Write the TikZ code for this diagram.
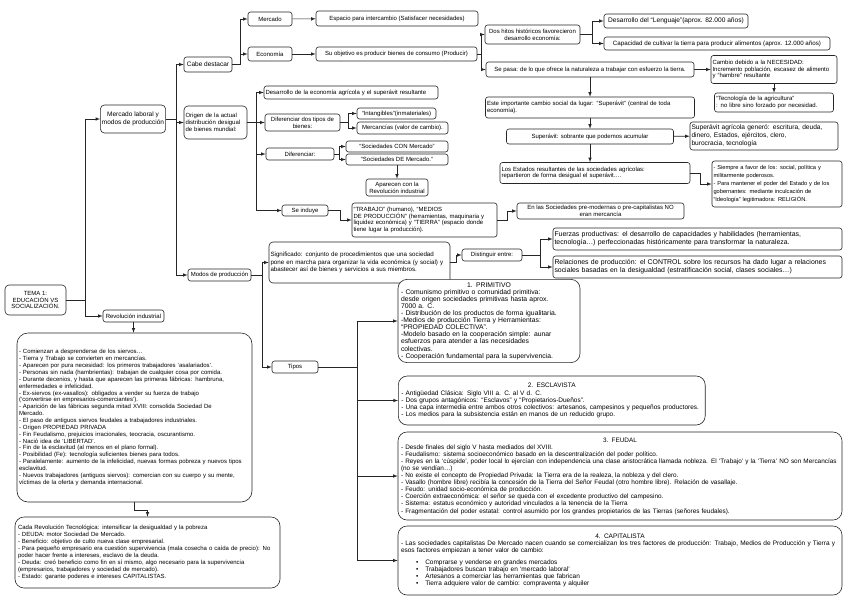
\documentclass[tikz,border=0pt]{standalone}
\usepackage{fontspec}
\setmainfont{Liberation Sans}
\newcommand{\paneltitle}[1]{\hspace*{\fill}#1\hspace*{\fill}\null\\}
\newcommand{\dotitem}[1]{\hspace*{15pt}\textbullet\hspace{7pt}#1}
\newlength{\esclwidth}
\AtBeginDocument{%
  \settowidth{\esclwidth}{\fontsize{6.5}{7.1}\selectfont - Una capa intermedia entre ambos otros colectivos: artesanos, campesinos y pequeños productores.}%
  \addtolength{\esclwidth}{8pt}}
\hyphenpenalty=10000

\begin{document}
\begin{tikzpicture}[
    x=1pt, y=-1pt,
    every node/.style={font=\fontsize{6}{6.8}\selectfont},
    box/.style={draw=black!85, line width=0.6pt, rounded corners=2.5pt, fill=white, inner sep=1.5pt, align=center},
    note/.style={box, align=left},
    panel/.style={box, align=left, rounded corners=9pt, inner sep=3pt, font=\fontsize{6.4}{7.1}\selectfont},
    sz/.style 2 args={minimum width=#1pt, minimum height=#2pt},
    every edge/.append style={line width=0.6pt, draw=black!85, >=latex},
    hvh/.style={to path={-- ++(#1,0) |- (\tikztotarget)}},
    vhv/.style={to path={-- ++(0,#1) -| (\tikztotarget)}}
]
   \fill[white] (0,0) rectangle (848,600);
   \useasboundingbox (0,0) rectangle (848,600);

   % Boxes
   \node[box, sz={61}{30}, rounded corners=4pt] (tema) at (35.5,300) {TEMA 1:\\EDUCACIÓN VS\\SOCIALIZACIÓN.};
   \node[box, sz={62}{28}, rounded corners=4pt, font=\fontsize{6.5}{7.4}\selectfont] (merlab) at (133,119) {Mercado laboral y\\modos de producción};
   \node[box, sz={61}{12}] (revind) at (133.5,316) {Revolución industrial};
   \node[box, sz={48}{15}, font=\fontsize{6.5}{7}\selectfont] (cabe) at (208,64.5) {Cabe destacar};
   \node[note, text width=60pt, minimum height=33pt, rounded corners=4pt] (origen) at (215.5,122.5) {Origen de la actual\\distribución desigual\\de bienes mundial:};
   \node[box, sz={63}{12}] (modos) at (219.5,275) {Modos de producción};

   \node[box, sz={44}{14}] (mercado) at (270,19) {Mercado};
   \node[box, sz={44}{14}] (economia) at (270,54) {Economía};
   \node[box, sz={162}{15}] (espacio) at (397,18.5) {Espacio para intercambio (Satisfacer necesidades)};
   \node[box, sz={161}{14}] (objetivo) at (396.5,54) {Su objetivo es producir bienes de consumo (Producir)};
   \node[box, sz={95}{19}] (hitos) at (532.5,34.5) {Dos hitos históricos favorecieron\\desarrollo economía:};
   \node[box, sz={144}{14}, font=\fontsize{6.6}{7}\selectfont] (lenguaje) at (676,21) {Desarrollo del “Lenguaje”(aprox. 82.000 años)};
   \node[box, sz={226}{13}, font=\fontsize{6.2}{7}\selectfont] (cultivar) at (717,43.5) {Capacidad de cultivar la tierra para producir alimentos (aprox. 12.000 años)};
   \node[box, sz={208}{15}] (sepasa) at (590,69.5) {Se pasa: de lo que ofrece la naturaleza a trabajar con esfuerzo la tierra.};
   \node[note, text width=123pt, minimum height=28pt] (necesidad) at (774,69.5) {Cambio debido a la NECESIDAD:\\Incremento población, escasez de alimento\\y “hambre” resultante};
   \node[note, text width=116pt, minimum height=19pt] (tecnologia) at (774,102.5) {“Tecnología de la agricultura”\\: no libre sino forzado por necesidad.};
   \node[note, text width=206pt, minimum height=21pt] (importante) at (590,107.5) {Este importante cambio social da lugar: “Superávit” (central de toda\\economía).};
   \node[box, sz={167}{15}] (superavit) at (590,136.5) {Superávit: sobrante que podemos acumular};
   \node[note, text width=145pt, minimum height=28pt, font=\fontsize{6.6}{8}\selectfont] (genero) at (764,136) {Superávit agrícola generó: escritura, deuda,\\dinero, Estados, ejércitos, clero,\\burocracia, tecnología};
   \node[note, text width=187pt, minimum height=21pt] (estados) at (595,173) {Los Estados resultantes de las sociedades agrícolas:\\repartieron de forma desigual el superávit….};
   \node[note, text width=127pt, minimum height=46pt, font=\fontsize{5.7}{7.8}\selectfont] (siempre) at (777,184) {- Siempre a favor de los: social, política y\\militarmente poderosos.\\- Para mantener el poder del Estado y de los\\gobernantes: mediante inculcación de\\“Ideología” legitimadora: RELIGIÓN.};

   \node[note, text width=171pt, minimum height=13pt] (agricola) at (351,92.5) {Desarrollo de la economía agrícola y el superávit resultante};
   \node[box, sz={75}{17}] (dostipos) at (302.5,122.5) {Diferenciar dos tipos de\\bienes:};
   \node[box, sz={79}{11}] (intangibles) at (396.5,113.5) {“Intangibles”(inmateriales)};
   \node[box, sz={91}{12}] (mercancias) at (402.5,128) {Mercancías (valor de cambio).};
   \node[box, sz={68}{12}] (diferenciar) at (300,154) {Diferenciar:};
   \node[box, sz={102}{11}] (conmercado) at (397,146.5) {“Sociedades CON Mercado”};
   \node[box, sz={102}{11}] (demercado) at (397,159.5) {“Sociedades DE Mercado.”};
   \node[box, sz={62}{17}] (aparecen) at (397,187.5) {Aparecen con la\\Revolución industrial};
   \node[box, sz={46}{11}] (seinduye) at (305,210.5) {Se induye};
   \node[note, text width=142pt, minimum height=34pt] (trabajo) at (424.5,220) {“TRABAJO” (humano), “MEDIOS\\DE PRODUCCIÓN” (herramientas, maquinaria y\\liquidez económica) y “TIERRA” (espacio donde\\tiene lugar la producción).};
   \node[box, sz={167}{16}] (premodernas) at (600.5,211) {En las Sociedades pre-modernas o pre-capitalistas NO\\eran mercancía};

   \node[note, text width=178pt, minimum height=41pt, rounded corners=4pt, font=\fontsize{6.2}{7.2}\selectfont] (significado) at (359.5,262.5) {Significado: conjunto de procedimientos que una sociedad\\pone en marcha para organizar la vida económica (y social) y\\abastecer así de bienes y servicios a sus miembros.};
   \node[box, sz={60}{12}] (distinguir) at (492,255) {Distinguir entre:};
   \node[note, text width=286pt, minimum height=22pt, font=\fontsize{6.9}{7.7}\selectfont] (fuerzas) at (697.5,239) {Fuerzas productivas: el desarrollo de capacidades y habilidades (herramientas,\\tecnología…) perfeccionadas históricamente para transformar la naturaleza.};
   \node[note, text width=286pt, minimum height=22pt, font=\fontsize{6.9}{7.7}\selectfont] (relaciones) at (697.5,267) {Relaciones de producción: el CONTROL sobre los recursos ha dado lugar a relaciones\\sociales basadas en la desigualdad (estratificación social, clases sociales…)};
   \node[box, sz={46}{12}] (tipos) at (295,367) {Tipos};

   \node[panel, text width=176pt, minimum height=82pt, font=\fontsize{6.8}{7.1}\selectfont] (primitivo) at (489,321) {\paneltitle{1. PRIMITIVO}- Comunismo primitivo o comunidad primitiva:\\desde origen sociedades primitivas hasta aprox.\\7000 a. C.\\- Distribución de los productos de forma igualitaria.\\-Medios de producción Tierra y Herramientas:\\“PROPIEDAD COLECTIVA”.\\-Modelo basado en la cooperación simple: aunar\\esfuerzos para atender a las necesidades\\colectivas.\\- Cooperación fundamental para la supervivencia.};
   \node[panel, text width=\esclwidth, minimum height=49pt, anchor=west, font=\fontsize{6.5}{7.1}\selectfont] (esclavista) at (398,400.5) {\paneltitle{2. ESCLAVISTA}- Antigüedad Clásica: Siglo VIII a. C. al V d. C.\\- Dos grupos antagónicos: “Esclavos” y “Propietarios-Dueños”.\\- Una capa intermedia entre ambos otros colectivos: artesanos, campesinos y pequeños productores.\\- Los medios para la subsistencia están en manos de un reducido grupo.};
   \node[panel, text width=438pt, minimum height=88pt] (feudal) at (620,476) {\paneltitle{3. FEUDAL}- Desde finales del siglo V hasta mediados del XVIII.\\- Feudalismo: sistema socioeconómico basado en la descentralización del poder político.\\- Reyes en la ‘cúspide’, poder local lo ejercían con independencia una clase aristocrática llamada nobleza. El ‘Trabajo’ y la ‘Tierra’ NO son Mercancías\\(no se vendían…)\\- No existe el concepto de Propiedad Privada: la Tierra era de la realeza, la nobleza y del clero.\\- Vasallo (hombre libre) recibía la concesión de la Tierra del Señor Feudal (otro hombre libre). Relación de vasallaje.\\- Feudo: unidad socio-económica de producción.\\- Coerción extraeconómica: el señor se queda con el excedente productivo del campesino.\\- Sistema: estatus económico y autoridad vinculados a la tenencia de la Tierra\\- Fragmentación del poder estatal: control asumido por los grandes propietarios de las Tierras (señores feudales).};
   \node[panel, text width=438pt, minimum height=69pt, font=\fontsize{6.5}{7}\selectfont] (capitalista) at (620,560.5) {\paneltitle{4. CAPITALISTA}- Las sociedades capitalistas De Mercado nacen cuando se comercializan los tres factores de producción: Trabajo, Medios de Producción y Tierra y\\esos factores empiezan a tener valor de cambio:\\[5pt]\dotitem{Comprarse y venderse en grandes mercados}\\\dotitem{Trabajadores buscan trabajo en ‘mercado laboral’}\\\dotitem{Artesanos a comerciar las herramientas que fabrican}\\\dotitem{Tierra adquiere valor de cambio: compraventa y alquiler}};

   \node[panel, text width=231pt, minimum height=169pt, inner sep=2pt, rounded corners=11pt, font=\fontsize{6}{6.85}\selectfont] (siervos) at (134.5,417.5) {- Comienzan a desprenderse de los siervos…\\- Tierra y Trabajo se convierten en mercancías.\\- Aparecen por pura necesidad: los primeros trabajadores ‘asalariados’.\\- Personas sin nada (hambrientas): trabajan de cualquier cosa por comida.\\- Durante decenios, y hasta que aparecen las primeras fábricas: hambruna,\\enfermedades e infelicidad.\\- Ex-siervos (ex-vasallos): obligados a vender su fuerza de trabajo\\(‘convertirse en empresarios-comerciantes’).\\- Aparición de las fábricas segunda mitad XVIII: consolida Sociedad De\\Mercado.\\- El paso de antiguos siervos feudales a trabajadores industriales.\\- Origen PROPIEDAD PRIVADA\\- Fin Feudalismo, prejuicios irracionales, teocracia, oscurantismo.\\- Nació idea de ‘LIBERTAD’.\\- Fin de la esclavitud (al menos en el plano formal).\\- Posibilidad (Fe): tecnología suficientes bienes para todos.\\- Paralelamente: aumento de la infelicidad, nuevas formas pobreza y nuevos tipos\\esclavitud.\\- Nuevos trabajadores (antiguos siervos): comercian con su cuerpo y su mente,\\víctimas de la oferta y demanda internacional.};
   \node[panel, text width=259pt, minimum height=71pt, font=\fontsize{6}{7.1}\selectfont] (deuda) at (147.5,552.5) {Cada Revolución Tecnológica: intensificar la desigualdad y la pobreza\\- DEUDA: motor Sociedad De Mercado.\\- Beneficio: objetivo de culto nueva clase empresarial.\\- Para pequeño empresario era cuestión supervivencia (mala cosecha o caída de precio): No\\poder hacer frente a intereses, esclavo de la deuda.\\- Deuda: creó beneficio como fin en sí mismo, algo necesario para la supervivencia\\(empresarios, trabajadores y sociedad de mercado).\\- Estado: garante poderes e intereses CAPITALISTAS.};

   % Links
   \path[->]
   (tema.east) edge[hvh=19] (merlab.west)
   (tema.east) edge[hvh=19] (revind.west)

   (merlab.east) edge[hvh=10] (cabe.west)
   (merlab.east) edge[hvh=10] (origen.west)
   (merlab.east) edge[hvh=10] (modos.west)

   (cabe.east) edge[hvh=8] (mercado.west)
   (cabe.east) edge[hvh=8] (economia.west)
   (mercado) edge (espacio)
   (economia) edge (objetivo)

   (objetivo.east) edge[hvh=4] (hitos.west)
   (objetivo.east) edge[hvh=4] (sepasa.west)
   (hitos.east) edge[hvh=12] (lenguaje.west)
   (hitos.east) edge[hvh=12] (cultivar.west)
   (sepasa) edge (necesidad)
   (necesidad) edge (tecnologia)
   (sepasa) edge (importante)
   (importante) edge (superavit)
   (superavit) edge (genero)
   (superavit.south) edge (superavit.south |- estados.north)
   (estados.east) edge[hvh=10] (siempre.west)

   (origen.east) edge[hvh=9] (agricola.west)
   (origen.east) edge[hvh=9] (dostipos.west)
   (origen.east) edge[hvh=9] (diferenciar.west)
   (origen.east) edge[hvh=9] (seinduye.west)
   (dostipos.east) edge[hvh=8] (intangibles.west)
   (dostipos.east) edge[hvh=8] (mercancias.west)
   (diferenciar.east) edge[hvh=5] (conmercado.west)
   (diferenciar.east) edge[hvh=5] (demercado.west)
   (demercado) edge (aparecen)
   (seinduye.east) edge[hvh=12] (trabajo.west)
   (trabajo.east) edge[hvh=10] (premodernas.west)

   (modos.east) edge[hvh=11] (significado.west)
   (modos.east) edge[hvh=11] (tipos.west)
   (significado.east) edge[hvh=6] (distinguir.west)
   (distinguir.east) edge[hvh=18] (fuerzas.west)
   (distinguir.east) edge[hvh=18] (relaciones.west)

   (tipos.east) edge[hvh=39] (primitivo.west)
   (tipos.east) edge[hvh=39] (esclavista.west)
   (tipos.east) edge[hvh=39] (feudal.west)
   (tipos.east) edge[hvh=39] (capitalista.west)

   (revind) edge (revind |- siervos.north)
   (siervos.south) edge[vhv=8] (deuda.north);
\end{tikzpicture}
\end{document}
